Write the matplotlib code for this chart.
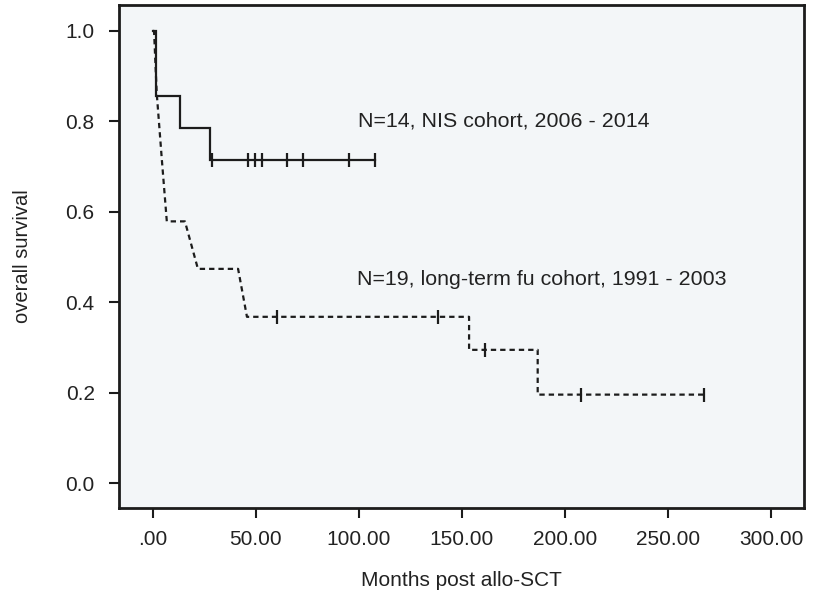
import matplotlib
matplotlib.use("Agg")
import matplotlib.pyplot as plt

# ---------------- data ----------------
x_ticks = [0, 50, 100, 150, 200, 250, 300]
x_tick_labels = [".00", "50.00", "100.00", "150.00", "200.00", "250.00", "300.00"]
y_ticks = [0.0, 0.2, 0.4, 0.6, 0.8, 1.0]
y_tick_labels = ["0.0", "0.2", "0.4", "0.6", "0.8", "1.0"]

# NIS cohort (N=14) - step curve
nis_times = [0, 1.5, 13.4, 27.8, 107.8]
nis_surv = [1.0, 0.857, 0.786, 0.714, 0.714]
nis_censor_times = [28.6, 46.4, 49.6, 53.2, 65.0, 72.8, 95.2, 107.8]
nis_censor_surv = [0.714, 0.714, 0.714, 0.714, 0.714, 0.714, 0.714, 0.714]

# long-term fu cohort (N=19) - curve vertices as drawn
lt_times = [0, 0.6, 1.9, 4.4, 6.8, 15.6, 21.9, 41.4, 45.7, 153.5, 153.5, 186.8, 186.8, 267.5]
lt_surv = [1.0, 1.0, 0.863, 0.715, 0.579, 0.579, 0.474, 0.474, 0.368, 0.368, 0.295, 0.295, 0.196, 0.196]
lt_censor_times = [60.3, 138.4, 161.3, 207.8, 267.5]
lt_censor_surv = [0.368, 0.368, 0.295, 0.196, 0.196]

label_nis = "N=14, NIS cohort, 2006 - 2014"
label_lt = "N=19, long-term fu cohort, 1991 - 2003"

# ---------------- figure ----------------
W, H = 819, 600
fig = plt.figure(figsize=(W / 100, H / 100), dpi=100)
fig.patch.set_facecolor("white")
plt.rcParams["font.family"] = ["Liberation Sans", "DejaVu Sans"]

L, R, T, B = 119, 803.7, 4.7, 508.3
ax = fig.add_axes([L / W, 1 - B / H, (R - L) / W, (B - T) / H])
ax.set_facecolor("#f3f6f8")

ink = "#1c1c1c"
txt = "#222222"
ax.plot(nis_times, nis_surv, drawstyle="steps-post", color=ink, lw=1.6,
        solid_joinstyle="miter")
ax.plot(nis_censor_times, nis_censor_surv, ls="none", marker="|", ms=9.5,
        mew=1.6, color=ink)

ax.plot(lt_times, lt_surv, color=ink, lw=1.6, linestyle=(0, (2.4, 1.8)),
        dash_capstyle="butt")
ax.plot(lt_censor_times, lt_censor_surv, ls="none", marker="|", ms=9.5,
        mew=1.6, color=ink)

ax.text(99.6, 0.80, label_nis, fontsize=15.4, color=txt,
        ha="left", va="center")
ax.text(99.3, 0.4495, label_lt, fontsize=15.4, color=txt,
        ha="left", va="center")

ax.set_xlim(-16.4, 315.9)
ax.set_ylim(-0.0553, 1.058)
ax.set_xticks(x_ticks)
ax.set_xticklabels(x_tick_labels, family=["Liberation Sans Narrow", "Liberation Sans"],
                   fontsize=15, color=txt)
ax.set_yticks(y_ticks)
ax.set_yticklabels(y_tick_labels, fontsize=15, color=txt)
ax.tick_params(axis="both", direction="out", length=7.5, width=1.5, color=ink)
ax.tick_params(axis="y", pad=10)
ax.tick_params(axis="x", pad=8)

for s in ax.spines.values():
    s.set_linewidth(2.0)
    s.set_color(ink)

ax.set_xlabel("Months post allo-SCT", family=["Liberation Sans Narrow", "Liberation Sans"],
              fontsize=15, color=txt, labelpad=16)
ax.set_ylabel("overall survival", fontsize=14.5, color=txt, labelpad=24)

fig.savefig("out.png", dpi=100, facecolor="white")
